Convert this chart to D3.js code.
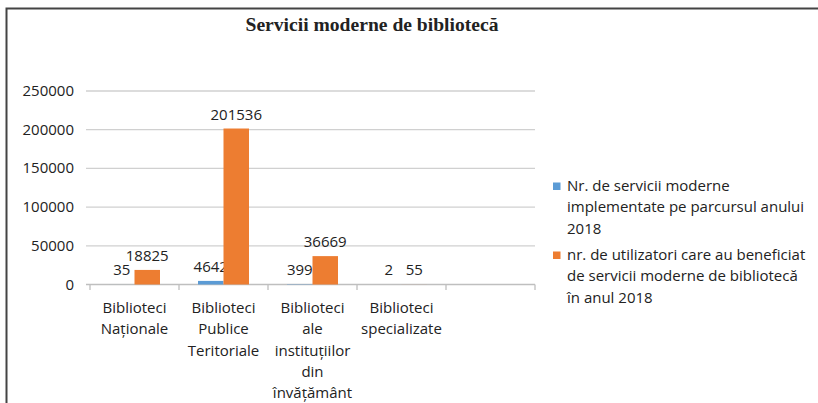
<!DOCTYPE html>
<html>
<head>
<meta charset="utf-8">
<script src="https://cdn.jsdelivr.net/npm/d3@7"></script>
<style>
  body { margin: 0; background: #fff; }
  svg { display: block; }
  text { font-family: "Open Sans", sans-serif; fill: #222; }
</style>
</head>
<body>
<script>
const width = 818, height = 403;

// data
const categories = ["Biblioteci\nNaționale", "Biblioteci\nPublice\nTeritoriale",
  "Biblioteci\nale\ninstituțiilor\ndin\nînvățământ", "Biblioteci\nspecializate", ""];
const serviciiModerne = [35, 4642, 399, 2, null];
const utilizatori = [18825, 201536, 36669, 55, null];
const seriesNames = [
  "Nr. de servicii moderne\nimplementate pe parcursul anului\n2018",
  "nr. de utilizatori care au beneficiat\nde servicii moderne de bibliotecă\nîn anul 2018"
];
const seriesColors = ["#5b9bd5", "#ed7d31"];
const yTicks = [0, 50000, 100000, 150000, 200000, 250000];

const svg = d3.select("body").append("svg")
  .attr("width", width)
  .attr("height", height);

// frame
svg.append("path")
  .attr("d", "M6.5,403V8.5H818")
  .attr("fill", "none")
  .attr("stroke", "#444")
  .attr("stroke-width", 2);

svg.append("text")
  .attr("x", 372)
  .attr("y", 31)
  .attr("text-anchor", "middle")
  .attr("textLength", 253)
  .attr("lengthAdjust", "spacingAndGlyphs")
  .style("font-family", "'Liberation Serif', serif")
  .style("font-weight", "bold")
  .style("font-size", "18px")
  .text("Servicii moderne de bibliotecă");

const x = d3.scaleBand()
  .domain(d3.range(categories.length))
  .range([90, 535]);

const inner = d3.scaleBand()
  .domain([0, 1])
  .range([-25.5, 25.5]);

const y = d3.scaleLinear()
  .domain([0, 250000])
  .range([284.5, 91]);

// gridlines + y labels
const grid = svg.append("g");
grid.selectAll("line")
  .data(yTicks)
  .enter().append("line")
  .attr("x1", 86).attr("x2", 535)
  .attr("y1", d => y(d)).attr("y2", d => y(d))
  .attr("stroke", d => d === 0 ? "#bfbfbf" : "#d0d0d0")
  .attr("stroke-width", 1.3);

grid.selectAll("text")
  .data(yTicks)
  .enter().append("text")
  .attr("x", 74)
  .attr("y", d => y(d) + 5)
  .attr("text-anchor", "end")
  .style("font-size", "15px")
  .text(d => d);

// x boundary ticks
svg.append("g").selectAll("line")
  .data(d3.range(categories.length + 1))
  .enter().append("line")
  .attr("x1", d => 90 + d * x.bandwidth())
  .attr("x2", d => 90 + d * x.bandwidth())
  .attr("y1", 284.5).attr("y2", 290)
  .attr("stroke", "#bfbfbf")
  .attr("stroke-width", 1.3);

// category labels
const cat = svg.append("g").selectAll("text")
  .data(categories)
  .enter().append("text")
  .attr("text-anchor", "middle")
  .style("font-size", "15px");
cat.each(function(d, i) {
  const t = d3.select(this);
  d.split("\n").forEach((line, k) => {
    t.append("tspan")
      .attr("x", x(i) + x.bandwidth() / 2)
      .attr("y", 313 + k * 21.3)
      .text(line);
  });
});

// bars
const series = [serviciiModerne, utilizatori];
series.forEach((vals, s) => {
  const data = vals.map((v, i) => ({ i, v })).filter(d => d.v !== null);
  const cx = d => x(d.i) + x.bandwidth() / 2 + inner(s);
  svg.append("g").selectAll("rect")
    .data(data)
    .enter().append("rect")
    .attr("x", cx)
    .attr("y", d => y(d.v))
    .attr("width", inner.bandwidth())
    .attr("height", d => y(0) - y(d.v))
    .attr("fill", seriesColors[s]);
  svg.append("g").selectAll("text")
    .data(data)
    .enter().append("text")
    .attr("x", d => cx(d) + inner.bandwidth() / 2)
    .attr("y", d => y(d.v) - 9)
    .attr("text-anchor", "middle")
    .style("font-size", "15px")
    .text(d => d.v);
});

// legend
const legendTop = [191, 260];
seriesNames.forEach((name, s) => {
  const g = svg.append("g");
  g.append("rect")
    .attr("x", 553)
    .attr("y", legendTop[s] - 8.5)
    .attr("width", 7.5)
    .attr("height", 7.5)
    .attr("fill", seriesColors[s]);
  const t = g.append("text").style("font-size", "15px");
  name.split("\n").forEach((line, k) => {
    t.append("tspan")
      .attr("x", 567)
      .attr("y", legendTop[s] + k * 21.3)
      .text(line);
  });
});
</script>
</body>
</html>
